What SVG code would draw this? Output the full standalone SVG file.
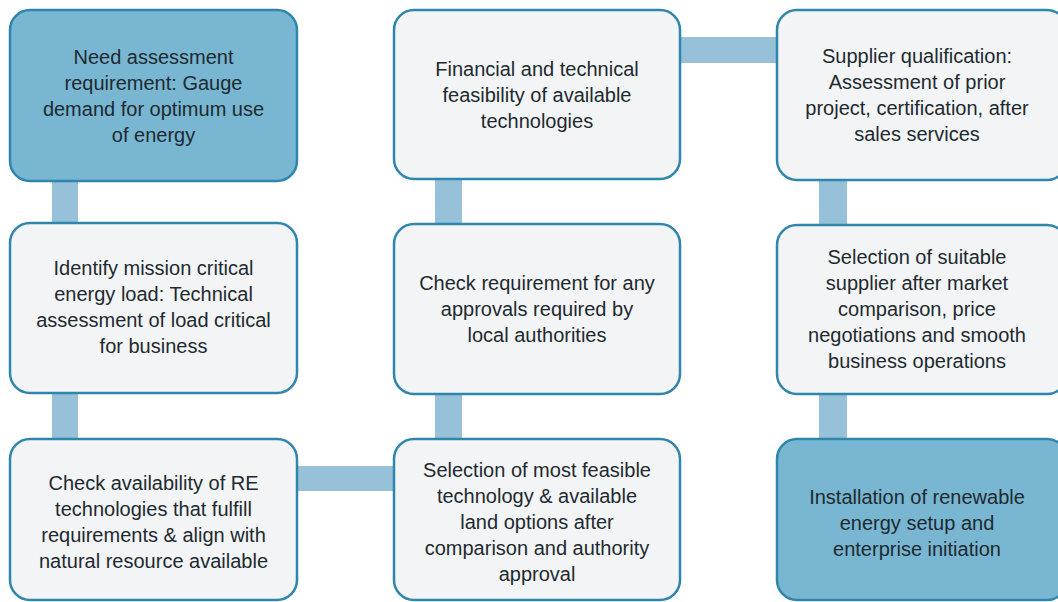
<svg xmlns="http://www.w3.org/2000/svg" width="1058" height="602" viewBox="0 0 1058 602">
<style>
.box{stroke:#2f86ad;stroke-width:2.5}
.light{fill:#f2f4f5}
.dark{fill:#78b6d2}
.conn{fill:#97c1d9}
text{font-family:"Liberation Sans",Arial,sans-serif;font-size:20px;fill:#1e2a30;text-anchor:middle}
</style>
<rect width="1058" height="602" fill="#ffffff"/>
<g id="connectors">
<rect class="conn" x="52" y="180" width="26" height="44"/>
<rect class="conn" x="52" y="392" width="26" height="48"/>
<rect class="conn" x="296" y="466" width="99" height="25"/>
<rect class="conn" x="435" y="393" width="27" height="47"/>
<rect class="conn" x="435" y="178" width="27" height="47"/>
<rect class="conn" x="679" y="37" width="99" height="26"/>
<rect class="conn" x="819" y="179" width="28" height="47"/>
<rect class="conn" x="819" y="393" width="28" height="47"/>
</g>
<g id="n1">
<rect class="box dark" x="10" y="10" width="287" height="171" rx="20"/>
<text x="153.5" y="64">Need assessment</text>
<text x="153.5" y="90">requirement: Gauge</text>
<text x="153.5" y="116">demand for optimum use</text>
<text x="153.5" y="142">of energy</text>
</g>
<g id="n2">
<rect class="box light" x="10" y="223" width="287" height="170" rx="20"/>
<text x="153.5" y="275">Identify mission critical</text>
<text x="153.5" y="301">energy load: Technical</text>
<text x="153.5" y="327">assessment of load critical</text>
<text x="153.5" y="353">for business</text>
</g>
<g id="n3">
<rect class="box light" x="10" y="439" width="287" height="161" rx="20"/>
<text x="153.5" y="490">Check availability of RE</text>
<text x="153.5" y="516">technologies that fulfill</text>
<text x="153.5" y="542">requirements &amp; align with</text>
<text x="153.5" y="568">natural resource available</text>
</g>
<g id="n4">
<rect class="box light" x="394" y="439" width="286" height="161" rx="20"/>
<text x="537" y="477">Selection of most feasible</text>
<text x="537" y="503">technology &amp; available</text>
<text x="537" y="529">land options after</text>
<text x="537" y="555">comparison and authority</text>
<text x="537" y="581">approval</text>
</g>
<g id="n5">
<rect class="box light" x="394" y="224" width="286" height="170" rx="20"/>
<text x="537" y="290">Check requirement for any</text>
<text x="537" y="316">approvals required by</text>
<text x="537" y="342">local authorities</text>
</g>
<g id="n6">
<rect class="box light" x="394" y="10" width="286" height="169" rx="20"/>
<text x="537" y="76">Financial and technical</text>
<text x="537" y="102">feasibility of available</text>
<text x="537" y="128">technologies</text>
</g>
<g id="n7">
<rect class="box light" x="777" y="10" width="290" height="170" rx="20"/>
<text x="917" y="63">Supplier qualification:</text>
<text x="917" y="89">Assessment of prior</text>
<text x="917" y="115">project, certification, after</text>
<text x="917" y="141">sales services</text>
</g>
<g id="n8">
<rect class="box light" x="777" y="225" width="290" height="169" rx="20"/>
<text x="917" y="264">Selection of suitable</text>
<text x="917" y="290">supplier after market</text>
<text x="917" y="316">comparison, price</text>
<text x="917" y="342">negotiations and smooth</text>
<text x="917" y="368">business operations</text>
</g>
<g id="n9">
<rect class="box dark" x="777" y="439" width="290" height="161" rx="20"/>
<text x="917" y="504">Installation of renewable</text>
<text x="917" y="530">energy setup and</text>
<text x="917" y="556">enterprise initiation</text>
</g>
</svg>
